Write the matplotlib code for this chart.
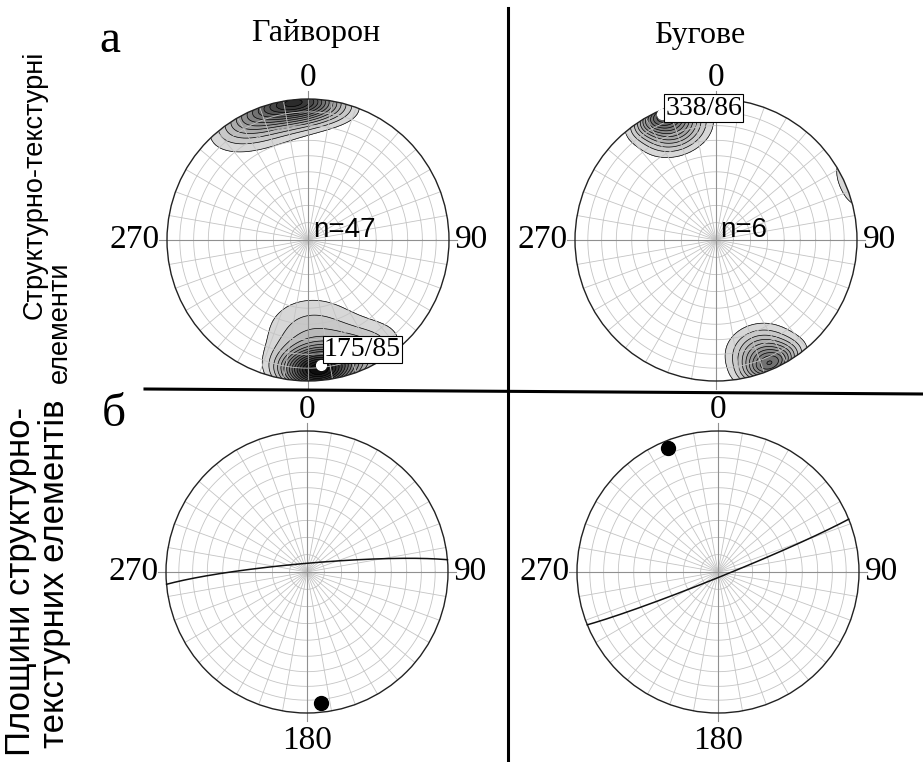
import numpy as np
import matplotlib.pyplot as plt
from matplotlib.patches import Circle

W, H = 923, 762

# pole concentration maxima (trend, plunge in degrees)
gai_trend = [356, 338, 8, 340, 176, 178, 155]
gai_plunge = [2, 3, 2, 10, 8, 34, 10]
gai_kappa = [30, 25, 30, 10, 30, 10, 16]
gai_weight = [0.7, 0.35, 0.15, 0.15, 1.0, 0.22, 0.22]

bug_trend = [337, 340, 340, 156, 158, 160, 67]
bug_plunge = [3, 15, 22, 3, 14, 24, -4]
bug_kappa = [50, 35, 35, 50, 40, 35, 60]
bug_weight = [1.0, 0.5, 0.2, 0.85, 0.4, 0.2, 0.26]

# maxima (white dots) and their labels
gai_max = (174, 12, '175/85')
bug_max = (337, 3, '338/86')
n_counts = ['n=47', 'n=6']

# planes (dip direction, dip) and their poles (trend, plunge)
plane_dipdir = [355, 158]
plane_dip = [85, 87]
pole_trend = [174, 338]
pole_plunge = [7, 6]

titles = ['Гайворон', 'Бугове']


def proj(trend, plunge):
    t = np.radians(trend)
    p = np.radians(plunge)
    e, n, d = np.cos(p) * np.sin(t), np.cos(p) * np.cos(t), np.sin(p)
    return e / np.sqrt(1 + d), n / np.sqrt(1 + d)


def net_axes(cx, cy, R=141, lim=1.25):
    s = R * lim
    ax = fig.add_axes([(cx - s) / W, 1 - (cy + s) / H, 2 * s / W, 2 * s / H])
    ax.set_xlim(-lim, lim)
    ax.set_ylim(-lim, lim)
    ax.set_aspect('equal')
    ax.axis('off')
    ax.patch.set_visible(False)
    return ax


def draw_net(ax, bottom_label=False):
    a = np.linspace(0, 2 * np.pi, 361)
    for pl in range(10, 90, 10):
        r = np.sqrt(1 - np.sin(np.radians(pl)))
        ax.plot(r * np.cos(a), r * np.sin(a), color='#c4c4c4', lw=0.6, zorder=3)
    for az in range(0, 360, 10):
        t = np.radians(az)
        ax.plot([0, np.sin(t)], [0, np.cos(t)], color='#c4c4c4', lw=0.6, zorder=3)
    ax.plot([-1.055, 1.055], [0, 0], color='#909090', lw=0.8, zorder=3)
    ax.plot([0, 0], [-1.055, 1.055], color='#909090', lw=0.8, zorder=3)
    ax.add_patch(Circle((0, 0), 1, fill=False, ec='#222222', lw=1.0, zorder=5))
    ax.text(0, 1.15, '0', ha='center', va='center', fontsize=24, family='Liberation Serif')
    ax.text(-1.05, 0, '270', ha='right', va='center', fontsize=24, family='Liberation Serif')
    ax.text(1.04, 0, '90', ha='left', va='center', fontsize=24, family='Liberation Serif')
    if bottom_label:
        ax.text(0, -1.2, '180', ha='center', va='center', fontsize=24, family='Liberation Serif')


def density(ax, trends, plunges, kappas, weights, nlev, dark):
    g = np.linspace(-1.05, 1.05, 420)
    X, Y = np.meshgrid(g, g)
    rho2 = np.clip(X ** 2 + Y ** 2, 0, 2)
    d = 1 - rho2
    e = X * np.sqrt(1 + d)
    n = Y * np.sqrt(1 + d)
    D = np.zeros_like(X)
    for t, p, k, w in zip(trends, plunges, kappas, weights):
        tr, pr = np.radians(t), np.radians(p)
        c = np.array([np.cos(pr) * np.sin(tr), np.cos(pr) * np.cos(tr), np.sin(pr)])
        D += w * np.exp(k * (e * c[0] + n * c[1] + d * c[2] - 1))
    top = D[rho2 <= 1].max()
    levels = np.linspace(0.1, 1.0, nlev) * top
    levels = np.append(levels, D.max() * 1.01)
    cols = plt.cm.gray(np.linspace(0.84, dark, len(levels) - 1))
    clip = Circle((0, 0), 1, transform=ax.transData)
    cf = ax.contourf(X, Y, D, levels=levels, colors=cols, zorder=1)
    cl = ax.contour(X, Y, D, levels=levels[:-1], colors='black', linewidths=0.5, zorder=2)
    cf.set_clip_path(clip)
    cl.set_clip_path(clip)


fig = plt.figure(figsize=(W / 100, H / 100), dpi=100)

centers_top = [(308, 240), (716, 240)]
centers_bot = [(307, 572), (718, 572)]

# top row: density of poles
ax = net_axes(*centers_top[0])
density(ax, gai_trend, gai_plunge, gai_kappa, gai_weight, 16, 0.0)
draw_net(ax)
x, y = proj(gai_max[0], gai_max[1])
ax.plot(x, y, 'o', ms=7, color='white', zorder=6)
ax.annotate(gai_max[2], (x, y), xytext=(2, 2), textcoords='offset points',
            ha='left', va='bottom', fontsize=20, family='Liberation Serif', zorder=7,
            bbox=dict(boxstyle='square,pad=0.05', fc='white', ec='black', lw=0.8))
ax.text(0.035, 0.02, n_counts[0], ha='left', va='baseline', fontsize=20,
        family='Liberation Sans', zorder=7)

ax = net_axes(*centers_top[1])
density(ax, bug_trend, bug_plunge, bug_kappa, bug_weight, 12, 0.3)
draw_net(ax)
x, y = proj(bug_max[0], bug_max[1])
ax.plot(x, y, 'o', ms=7, color='white', zorder=6)
ax.annotate(bug_max[2], (x, y), xytext=(2, -5), textcoords='offset points',
            ha='left', va='bottom', fontsize=20, family='Liberation Serif', zorder=7,
            bbox=dict(boxstyle='square,pad=0.05', fc='white', ec='black', lw=0.8))
ax.text(0.03, 0.02, n_counts[1], ha='left', va='baseline', fontsize=20,
        family='Liberation Sans', zorder=7)

# bottom row: planes as great circles with their poles
for i, (cx, cy) in enumerate(centers_bot):
    ax = net_axes(cx, cy)
    draw_net(ax, bottom_label=True)
    dd, dip = np.radians(plane_dipdir[i]), np.radians(plane_dip[i])
    s = dd - np.pi / 2
    phi = np.linspace(0, np.pi, 200)
    sv = np.array([np.sin(s), np.cos(s), 0.0])
    dv = np.array([np.cos(dip) * np.sin(dd), np.cos(dip) * np.cos(dd), np.sin(dip)])
    v = np.outer(np.cos(phi), sv) + np.outer(np.sin(phi), dv)
    gx = v[:, 0] / np.sqrt(1 + v[:, 2])
    gy = v[:, 1] / np.sqrt(1 + v[:, 2])
    ax.plot(gx, gy, color='#111111', lw=1.1, zorder=6)
    px, py = proj(pole_trend[i], pole_plunge[i])
    ax.plot(px, py, 'o', ms=10, color='black', zorder=7)

# titles and panel letters
fig.text(316 / W, 1 - 34 / H, titles[0], ha='center', va='center', fontsize=23,
         family='Liberation Serif')
fig.text(700 / W, 1 - 35 / H, titles[1], ha='center', va='center', fontsize=23,
         family='Liberation Serif')
fig.text(110 / W, 1 - 41 / H, 'а', ha='center', va='center', fontsize=34,
         family='Liberation Serif')
fig.text(114 / W, 1 - 415 / H, 'б', ha='center', va='center', fontsize=34,
         family='Liberation Serif')

# row captions
narrow = ['Liberation Sans Narrow', 'Liberation Sans']
fig.text(35 / W, 1 - 185 / H, 'Структурно-текстурні', rotation=90, ha='center',
         va='center', fontsize=19.5, family=narrow)
fig.text(60 / W, 1 - 322 / H, 'елементи', rotation=90, ha='center', va='center',
         fontsize=19.5, family=narrow)
fig.text(21 / W, 1 - 582 / H, 'Площини структурно-', rotation=90, ha='center',
         va='center', fontsize=25, family=narrow)
fig.text(55 / W, 1 - 574 / H, 'текстурних елементів', rotation=90, ha='center',
         va='center', fontsize=25, family=narrow)

# separators
fig.add_artist(plt.Line2D([508 / W, 508 / W], [1 - 8 / H, 0], color='black', lw=2.2))
fig.add_artist(plt.Line2D([145 / W, 1], [1 - 389 / H, 1 - 394 / H], color='black', lw=2.2))

fig.savefig('out.png', dpi=100)
